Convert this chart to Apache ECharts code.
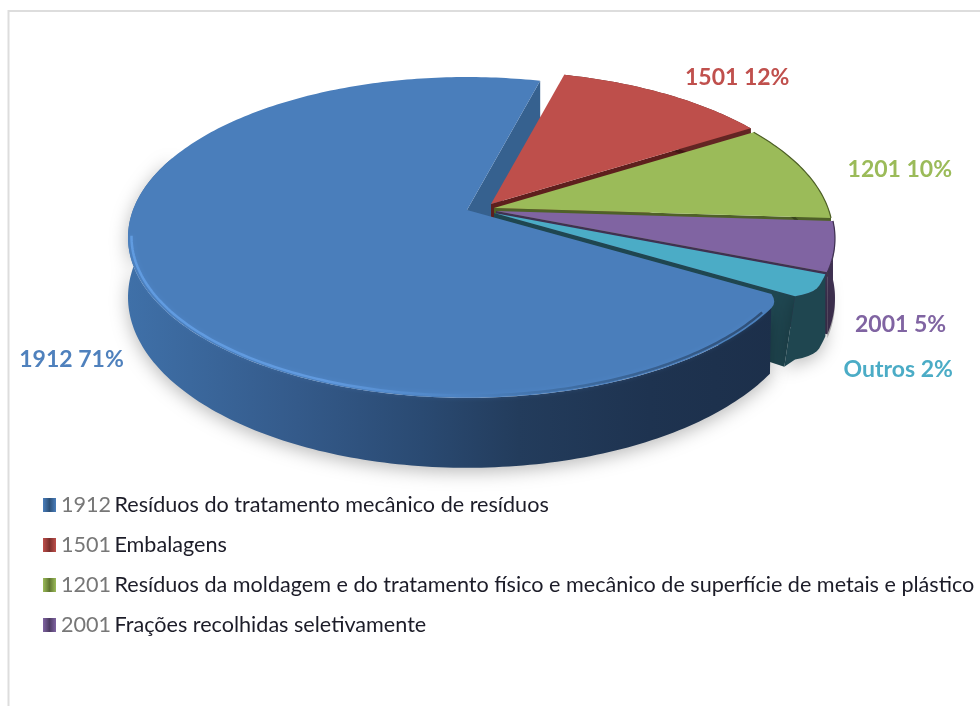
<!DOCTYPE html>
<html><head><meta charset="utf-8">
<style>html,body{margin:0;padding:0;background:#fff}#c{width:980px;height:706px}</style>
<script src="https://cdn.jsdelivr.net/npm/echarts@6/dist/echarts.min.js"></script>
</head><body><div id="c"></div>
<script>
const nomes = ['1501 Embalagens','1201 Resíduos da moldagem e do tratamento físico e mecânico de superfície de metais e plástico','2001 Frações recolhidas seletivamente','Outros','1912 Resíduos do tratamento mecânico de resíduos'];
const valores = [12, 9.9, 5, 2.5, 70.6];
const rotulos = ['1501 12%','1201 10%','2001 5%','Outros 2%','1912 71%'];
const legendaOrdem = ['1912 Resíduos do tratamento mecânico de resíduos','1501 Embalagens','1201 Resíduos da moldagem e do tratamento físico e mecânico de superfície de metais e plástico','2001 Frações recolhidas seletivamente'];

const topo = ['#BE4F4B','#9BBB59','#8064A2','#4BACC6','#4A7EBB'];
const parede = ['#5E1F1D','#4F6128','#3F3151','#1F4650','#36618F'];
const lado = ['#632523','#4F6128','#3F3151','#1F4650','#1D3350'];
const escuro = ['#7A2E2C','#5F7530','#4D3B63','#2C6E80','#2C5078'];
const corRotulo = ['#C0504D','#9BBB59','#8064A2','#4BACC6','#4F81BD'];
const centros = [[491,204],[494,208],[496,211],[494,213],[467,210]];
const desvioRotulo = [[72,-16],[95,-2],[66,78],[80,82],[-65,86]];
const pontaInicio = [0,0,0,0,0.03];
const pontaFim = [0,0,0,0.04,0];

const INICIO = 14.8, F = 334, G = 155.7, K = 0.171, D = 58;
const total = valores.reduce((a,b)=>a+b,0);
const rad = d => d*Math.PI/180;
function proj(c, ang, r, h){
  const x = Math.sin(rad(ang))*r, y = Math.cos(rad(ang))*r, w = 1+K*y;
  return [c[0]+F*x/w, c[1]-G*y/w+(h?D/w:0)];
}
function arco(c,a,b,h,i,r0){
  const p=[];const n=Math.max(2,Math.ceil(Math.abs(b-a)/1));
  const [A,B]=limites[i];
  for(let j=0;j<=n;j++){
    const t=a+(b-a)*j/n;
    const s=Math.max(0,1-(t-A)/4), e=Math.max(0,1-(B-t)/5);
    const r=(r0||1)-pontaInicio[i]*s*s-pontaFim[i]*e*e;
    p.push(proj(c,t,r,h));
  }
  return p;
}
const limites=[];let acum=INICIO;valores.forEach(v=>{const b=acum+v/total*360;limites.push([acum,b]);acum=b;});

function render(i){
  return function(){
    const [a,b]=limites[i], c=centros[i], z=(i===4?40:i*4+4);
    const top=arco(c,a,b,false,i);
    const ch=[];
    const O=proj(c,0,0,false), O2=proj(c,0,0,true);
    const E=top[top.length-1];
    const E2= i===3 ? proj(c,b+3,0.95,true) : proj(c,b,1,true);
    ch.push({type:'polygon',z2:i===4?1:z,shape:{points:[O,E,E2,O2]},style:{fill:parede[i]}});
    let lt, lb;
    if(i===4){
      lt=[top[0]].concat(arco(c,a+4.5,a+170,false,i));
      lb=arco(c,a+4.5,a+170,true,i);
    } else {
      lt=arco(c,a,b,false,i); lb=arco(c,a,b,true,i);
      if(i===3) lb.push(E2);
    }
    const ladoFill = i===4 ? {type:'linear',x:128,y:0,x2:780,y2:0,global:true,colorStops:[
      {offset:0,color:'#3F70A8'},{offset:.26,color:'#345A8A'},{offset:.45,color:'#2A4A72'},{offset:.6,color:'#233C5C'},{offset:.8,color:'#1E3350'},{offset:1,color:'#1C2F4A'}]} : lado[i];
    ch.push({type:'polygon',z2:z+1,shape:{points:lt.concat(lb.slice().reverse())},
      style:{fill:ladoFill,shadowBlur:i===4||i===3?18:0,shadowColor:'rgba(0,0,0,0.28)',shadowOffsetY:4}});
    ch.push({type:'polygon',z2:z+2,shape:{points:[O].concat(top)},style:{fill:topo[i]}});
    if(i===4){
      ch.push({type:'polyline',z2:z+3,shape:{points:arco(c,a+6,a+140,false,i,0.99)},style:{fill:'none',lineWidth:2.5,shadowBlur:5,shadowColor:'rgba(90,150,225,0.45)',
        stroke:{type:'linear',x:128,y:0,x2:780,y2:0,global:true,colorStops:[{offset:0,color:'rgba(100,160,230,0.85)'},{offset:.3,color:'rgba(100,158,228,0.85)'},{offset:.5,color:'rgba(79,134,198,0.8)'},{offset:.7,color:'rgba(58,101,150,0.8)'},{offset:1,color:'rgba(38,63,96,0.8)'}]}}});
    } else if(i===1||i===2){
      ch.push({type:'polyline',z2:z+3,shape:{points:top},style:{fill:'none',lineWidth:1.2,stroke:lado[i]}});
    }
    const m=proj(c,(a+b)/2,1,false), d=desvioRotulo[i];
    ch.push({type:'text',z2:60,style:{x:m[0]+d[0],y:m[1]+d[1],text:rotulos[i],fill:corRotulo[i],align:'center',verticalAlign:'middle',font:'bold 23px Lato, "Open Sans", sans-serif'}});
    return {type:'group',children:ch};
  };
}
const chart = echarts.init(document.getElementById('c'),null,{renderer:'canvas'});
chart.setOption({
  animation:false,
  backgroundColor:'#fff',
  graphic:[{type:'rect',shape:{x:8.5,y:11,width:990,height:720},style:{fill:'none',stroke:'#DDDDDD',lineWidth:2},silent:true}],
  legend:{
    orient:'vertical',left:43,top:494,itemWidth:13,itemHeight:14,itemGap:18,icon:'rect',selectedMode:false,padding:0,
    data:legendaOrdem.map(n=>{const k=nomes.indexOf(n);return {name:n,itemStyle:{color:{type:'linear',x:0,y:0,x2:1,y2:0,colorStops:[{offset:0,color:topo[k]},{offset:.5,color:escuro[k]},{offset:1,color:topo[k]}]}}};}),
    formatter:n=>n.replace(/^(\S+) (.*)$/,'{a|$1} {b|$2}'),
    textStyle:{rich:{a:{fontFamily:'Lato',fontSize:21.6,color:'#777777',lineHeight:26},b:{fontFamily:'Lato',fontSize:21.6,color:'#1C1C28',lineHeight:26}}}
  },
  series:nomes.map((n,i)=>({type:'custom',name:n,coordinateSystem:'none',silent:true,itemStyle:{color:topo[i]},renderItem:render(i),data:[valores[i]]}))
});
</script></body></html>
